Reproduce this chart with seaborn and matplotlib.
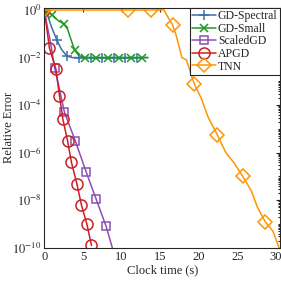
import numpy as np
import matplotlib
matplotlib.use("Agg")
import matplotlib.pyplot as plt
import matplotlib.ticker as mticker
import seaborn as sns

# clock time (s) and log10 of relative error
spec_t = [0, 0.4, 0.9, 1.6, 2.2, 2.9, 3.6, 4.5, 6.0, 7.5, 9.0, 10.5, 12.0, 13.4]
spec_e = [0, -0.2, -0.7, -1.25, -1.65, -1.93, -2.0, -2.0, -2.0, -2.0, -2.0, -2.0, -2.0, -2.0]

small_t = [0, 0.5, 1.0, 1.8, 2.5, 3.0, 3.4, 3.9, 4.4, 5.2, 6.7, 8.2, 9.7, 11.2, 12.7, 13.4]
small_e = [0, -0.1, -0.2, -0.45, -0.58, -0.8, -1.2, -1.67, -1.9, -2.0, -2.0, -2.0, -2.0, -2.0, -2.0, -2.0]

sgd_t = [0, 0.7, 1.35, 2.6, 4.0, 5.4, 6.7, 8.0, 8.8]
sgd_e = [-0.1, -1.2, -2.45, -4.3, -5.5, -6.8, -7.95, -9.1, -10.0]

apgd_t = [0, 0.65, 1.5, 1.95, 2.4, 3.0, 3.5, 4.2, 4.8, 5.5, 6.1]
apgd_e = [0, -1.6, -2.5, -3.6, -4.6, -5.5, -6.4, -7.3, -8.2, -9.0, -9.9]

tnn_t = [0, 10.8, 13.8, 15.5, 16.0, 16.6, 17.1, 17.8, 18.4, 19.4, 20.3, 21.2, 22.4,
         23.5, 24.5, 25.7, 26.8, 27.6, 28.6, 29.6, 30.4]
tnn_e = [0, 0, 0, 0, -0.3, -0.62, -1.1, -2.0, -2.1, -3.1, -3.7, -4.5, -5.25,
         -6.0, -6.4, -7.0, -7.6, -8.3, -8.9, -9.3, -10.0]

series = [
    ("GD-Spectral", spec_t, spec_e, "#3f6fa8", "+", 7, [0, 3, 5, 7, 8, 9, 10, 11, 12]),
    ("GD-Small", small_t, small_e, "#1f9a1f", "x", 6, [0, 2, 4, 7, 9, 10, 11, 12, 13, 14]),
    ("ScaledGD", sgd_t, sgd_e, "#8e4fb5", "s", 6, [0, 2, 3, 4, 5, 6, 7]),
    ("APGD", apgd_t, apgd_e, "#cc1f24", "o", 8, list(range(11))),
    ("TNN", tnn_t, tnn_e, "#ff9500", "D", 7.5, [0, 1, 2, 5, 9, 12, 15, 18]),
]

sns.set_theme(style="white")
plt.rcParams["font.family"] = ["Liberation Serif", "DejaVu Serif"]
plt.rcParams["mathtext.fontset"] = "stix"
plt.rcParams["font.size"] = 9

fig = plt.figure(figsize=(2.81, 2.81), dpi=100)
ax = fig.add_axes([0.158, 0.118, 0.838, 0.854])

for name, t, e, col, mk, ms, idx in series:
    sns.lineplot(x=t, y=10.0 ** np.array(e), ax=ax, color=col, label=name,
                 marker=mk, markersize=ms, markevery=idx, linewidth=1.1,
                 markerfacecolor="none", markeredgecolor=col, markeredgewidth=1.1)

ax.set_yscale("log")
ax.set_xlim(0, 30.5)
ax.set_ylim(1e-10, 10 ** 0.09)
ax.set_xticks([0, 5, 10, 15, 20, 25, 30])
ax.yaxis.set_major_locator(mticker.FixedLocator([10.0 ** k for k in range(0, -11, -2)]))
ax.yaxis.set_major_formatter(mticker.FuncFormatter(lambda v, p: r"$10^{%d}$" % round(np.log10(v))))
ax.yaxis.set_minor_locator(mticker.LogLocator(base=10, subs=np.arange(1, 10), numticks=100))
ax.yaxis.set_minor_formatter(mticker.NullFormatter())
ax.tick_params(direction="in", top=True, right=True, which="both", labelsize=9,
               length=3, width=0.8, pad=2, colors="#262626")
ax.tick_params(which="minor", length=1.8)
for s in ax.spines.values():
    s.set_color("#262626")
    s.set_linewidth(0.8)

ax.set_xlabel("Clock time (s)", fontsize=9, labelpad=1)
ax.set_ylabel("Relative Error", fontsize=9)
ax.yaxis.set_label_coords(-0.125, 0.5)

leg = ax.legend(loc="upper right", fontsize=8.5, borderaxespad=0, handlelength=2.0,
                handletextpad=0.2, labelspacing=0.05, borderpad=0.2, fancybox=False,
                framealpha=1)
leg.get_frame().set_edgecolor("#262626")
leg.get_frame().set_linewidth(0.8)

fig.savefig("out.png", dpi=100)
